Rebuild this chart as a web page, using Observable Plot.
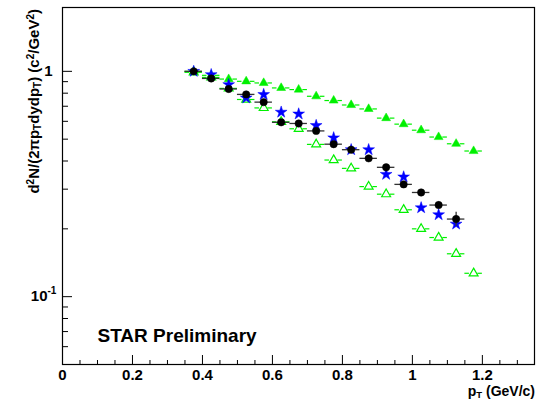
<!DOCTYPE html>
<html><head><meta charset="utf-8">
<script src="https://cdn.jsdelivr.net/npm/d3@7"></script>
<script src="https://cdn.jsdelivr.net/npm/@observablehq/plot@0.6"></script>
<style>html,body{margin:0;padding:0;background:#fff}</style>
</head><body><div id="chart"></div>
<script>
// pT bin centres (GeV/c)
const pt = [0.375,0.425,0.475,0.525,0.575,0.625,0.675,0.725,0.775,0.825,0.875,0.925,0.975,1.025,1.075,1.125,1.175];
// black circles
const blackVals = [1.0,0.93,0.835,0.79,0.73,0.594,0.587,0.544,0.475,0.449,0.411,0.375,0.315,0.29,0.255,0.221];
const blackErr  = [0.004,0.004,0.004,0.004,0.004,0.004,0.004,0.004,0.004,0.004,0.004,0.005,0.005,0.006,0.008,0.016];
// blue stars
const blueVals = [1.0,0.967,0.873,0.762,0.789,0.659,0.647,0.575,0.507,0.449,0.449,0.349,0.34,0.248,0.231,0.21];
// green filled triangles
const greenFilledVals = [1.0,0.96,0.924,0.903,0.888,0.844,0.83,0.775,0.742,0.709,0.681,0.62,0.583,0.548,0.511,0.477,0.443];
// green open triangles
const greenOpenVals = [0.99,0.94,0.84,0.75,0.688,0.597,0.556,0.474,0.404,0.371,0.308,0.285,0.243,0.2,0.183,0.155,0.127];
// axis ticks
const xMajor = [0,0.2,0.4,0.6,0.8,1,1.2];
const xMinor = [0.05,0.1,0.15,0.25,0.3,0.35,0.45,0.5,0.55,0.65,0.7,0.75,0.85,0.9,0.95,1.05,1.1,1.15,1.25,1.3];
const yMajor = [0.1,1];
const yMinor = [0.06,0.07,0.08,0.09,0.2,0.3,0.4,0.5,0.6,0.7,0.8,0.9];

const W = 540, H = 400, mL = 62, mR = 6, mT = 7, mB = 36;
const fw = W - mL - mR, fh = H - mT - mB;
const halfBin = 0.025, gap = 0.012;

const rows = (vals, errs) => vals.map((v, i) => ({x: pt[i], y: v, e: errs ? errs[i] : 0}));
const black = rows(blackVals, blackErr);
const blue = rows(blueVals);
const gFill = rows(greenFilledVals);
const gOpen = rows(greenOpenVals);
const GREEN = "#00f000", BLUE = "#0000ff";

const sideBars = (data, stroke) => [
  Plot.ruleY(data, {y: "y", x1: d => d.x - halfBin, x2: d => d.x - gap, stroke, strokeWidth: 1.2}),
  Plot.ruleY(data, {y: "y", x1: d => d.x + gap, x2: d => d.x + halfBin, stroke, strokeWidth: 1.2})
];

const chart = Plot.plot({
  width: W, height: H,
  marginLeft: mL, marginRight: mR, marginTop: mT, marginBottom: mB,
  style: {fontFamily: "'Liberation Sans', Arial, sans-serif", background: "#fff", color: "#000"},
  x: {domain: [0, 1.349], axis: null},
  y: {type: "log", domain: [0.05, 1.92], axis: null},
  marks: [
    Plot.tickX(xMajor, {x: d => d, insetTop: fh - 9, stroke: "#000"}),
    Plot.tickX(xMinor, {x: d => d, insetTop: fh - 4, stroke: "#000"}),
    Plot.tickY(yMajor, {y: d => d, insetRight: fw - 10, stroke: "#000"}),
    Plot.tickY(yMinor, {y: d => d, insetRight: fw - 6, stroke: "#000"}),
    Plot.axisX(xMajor, {tickSize: 0, tickPadding: 5, tickFormat: d => String(d), fontSize: 15, fontWeight: "bold", label: null}),
    Plot.axisY([1], {tickSize: 0, tickPadding: 10, tickFormat: () => "1", fontSize: 15, fontWeight: "bold", label: null}),
    Plot.text([0.1], {y: d => d, frameAnchor: "left", text: () => "10", textAnchor: "end", dx: -15, fontSize: 15, fontWeight: "bold"}),
    Plot.text([0.1], {y: d => d, frameAnchor: "left", text: () => "-1", textAnchor: "start", dx: -15, dy: -6, fontSize: 10, fontWeight: "bold"}),
    ...sideBars(gOpen, GREEN),
    Plot.dot(gOpen, {x: "x", y: "y", symbol: "triangle", r: 3.3, stroke: GREEN, strokeWidth: 1.2, fill: "none"}),
    ...sideBars(gFill, GREEN),
    Plot.dot(gFill, {x: "x", y: "y", symbol: "triangle", r: 3.3, fill: GREEN, stroke: GREEN, strokeWidth: 0.5}),
    Plot.dot(blue, {x: "x", y: "y", symbol: "star", r: 3.7, fill: BLUE, stroke: BLUE, strokeWidth: 0.5}),
    Plot.ruleY(black, {y: "y", x1: d => d.x - halfBin, x2: d => d.x + halfBin, stroke: "#333", strokeWidth: 1.3}),
    Plot.ruleX(black, {x: "x", y1: d => d.y - d.e, y2: d => d.y + d.e, stroke: "#333", strokeWidth: 1.3}),
    Plot.dot(black, {x: "x", y: "y", r: 3.7, fill: "#000", stroke: "#000", strokeWidth: 0.5}),
    Plot.text(["STAR Preliminary"], {frameAnchor: "bottom-left", text: d => d, textAnchor: "start", lineAnchor: "middle", dx: 35, dy: -28.5, fontSize: 19, fontWeight: "bold"}),
    Plot.frame({stroke: "#000", strokeWidth: 1.2})
  ]
});

document.getElementById("chart").appendChild(chart);

const svg = d3.select(chart);
const addPart = (el, parts, supSize) => {
  parts.forEach(([t, k]) => {
    const ts = el.append("tspan").text(t);
    if (k === "sup") ts.attr("font-size", supSize).attr("baseline-shift", "super");
    if (k === "sub") ts.attr("font-size", supSize).attr("baseline-shift", "-2");
  });
};
const yl = svg.append("text")
  .attr("transform", "translate(39,9) rotate(-90)")
  .attr("text-anchor", "end")
  .attr("font-size", 15).attr("font-weight", "bold").attr("fill", "#000");
addPart(yl, [["d"],["2","sup"],["N/(2\u03C0p"],["T","sub"],["dydp"],["T","sub"],[") (c"],["2","sup"],["/GeV"],["2","sup"],[")"]], 10);
const xl = svg.append("text")
  .attr("x", 535).attr("y", 396)
  .attr("text-anchor", "end")
  .attr("font-size", 14).attr("font-weight", "bold").attr("fill", "#000");
addPart(xl, [["p"],["T","sub"],[" (GeV/c)"]], 9.5);
</script>
</body></html>
